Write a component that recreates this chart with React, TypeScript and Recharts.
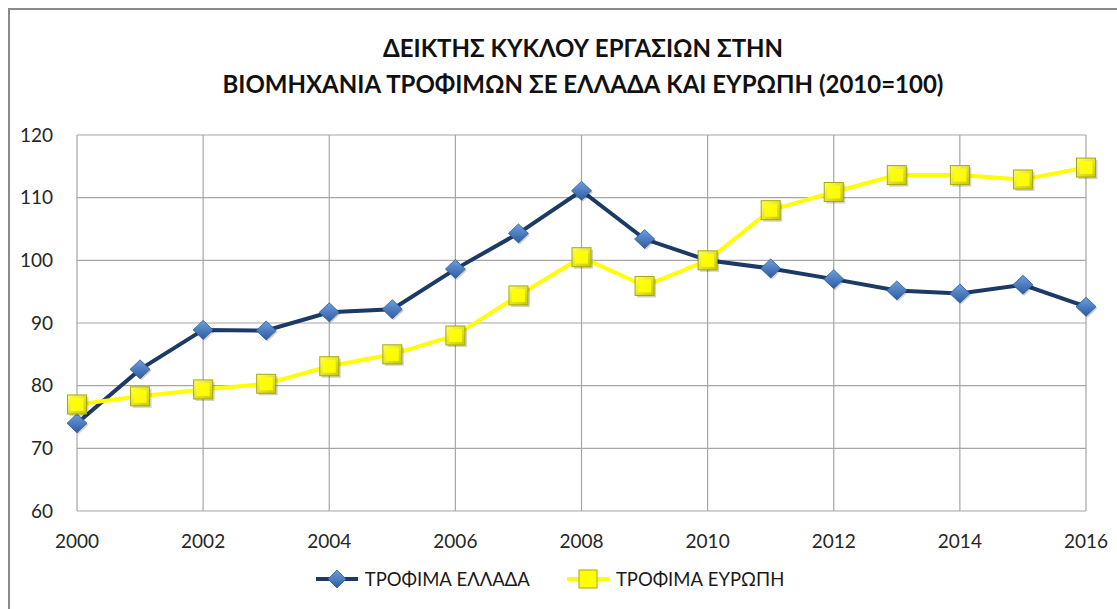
import React from "react";
import { LineChart, Line, XAxis, YAxis, CartesianGrid } from "recharts";

const years = [2000, 2001, 2002, 2003, 2004, 2005, 2006, 2007, 2008, 2009, 2010, 2011, 2012, 2013, 2014, 2015, 2016];
const greece = [74.0, 82.6, 88.9, 88.8, 91.7, 92.2, 98.6, 104.3, 111.1, 103.4, 100.0, 98.7, 97.0, 95.2, 94.7, 96.1, 92.6];
const europe = [77.0, 78.3, 79.4, 80.3, 83.1, 85.0, 88.0, 94.4, 100.5, 95.9, 100.0, 108.0, 110.9, 113.6, 113.6, 112.9, 114.8];
const xTicks = [2000, 2002, 2004, 2006, 2008, 2010, 2012, 2014, 2016];
const yTicks = [60, 70, 80, 90, 100, 110, 120];
const titleLines = ["ΔΕΙΚΤΗΣ ΚΥΚΛΟΥ ΕΡΓΑΣΙΩΝ ΣΤΗΝ", "ΒΙΟΜΗΧΑΝΙΑ ΤΡΟΦΙΜΩΝ ΣΕ ΕΛΛΑΔΑ ΚΑΙ ΕΥΡΩΠΗ (2010=100)"];
const seriesNames = ["ΤΡΟΦΙΜΑ ΕΛΛΑΔΑ", "ΤΡΟΦΙΜΑ ΕΥΡΩΠΗ"];

const data = years.map((y, i) => ({ year: y, greece: greece[i], europe: europe[i] }));

const FONT = "Lato, 'Noto Sans', sans-serif";
const NAVY = "#1b3a66";
const YELLOW = "#ffff00";

const Diamond = (props: any) => {
  const { cx, cy } = props;
  if (cx == null || cy == null) return null;
  const w = 10, h = 9.5;
  return (
    <g>
      <path d={`M${cx + 1.5},${cy - h + 1.5} L${cx + w + 1.5},${cy + 1.5} L${cx + 1.5},${cy + h + 1.5} L${cx - w + 1.5},${cy + 1.5} Z`} fill="#000" opacity={0.18} />
      <path d={`M${cx},${cy - h} L${cx + w},${cy} L${cx},${cy + h} L${cx - w},${cy} Z`} fill="url(#diaGrad)" stroke="#2f5c95" strokeWidth={0.8} />
    </g>
  );
};

const Square = (props: any) => {
  const { cx, cy } = props;
  if (cx == null || cy == null) return null;
  const s = 9.5;
  return (
    <g>
      <rect x={cx - s + 2} y={cy - s + 2} width={2 * s} height={2 * s} fill="#000" opacity={0.18} />
      <rect x={cx - s} y={cy - s} width={2 * s} height={2 * s} fill="url(#sqGrad)" stroke="#a8a800" strokeWidth={1} />
      <rect x={cx - s + 3} y={cy - s + 3} width={2 * s - 6} height={2 * s - 6} fill={YELLOW} opacity={0.9} />
    </g>
  );
};

const LegendItem = ({ kind, label }: { kind: "d" | "s"; label: string }) => (
  <div style={{ display: "flex", alignItems: "center" }}>
    <svg width={44} height={24} style={{ marginRight: 6 }}>
      <line x1={1} y1={12} x2={43} y2={12} stroke={kind === "d" ? NAVY : YELLOW} strokeWidth={4} />
      {kind === "d" ? (
        <path d="M22,3 L31,12 L22,21 L13,12 Z" fill="url(#legDia)" stroke="#2f5c95" strokeWidth={0.8} />
      ) : (
        <rect x={13} y={3} width={18} height={18} fill={YELLOW} stroke="#a8a800" strokeWidth={1} />
      )}
      <defs>
        <linearGradient id="legDia" x1="0" y1="0" x2="0" y2="1">
          <stop offset="0%" stopColor="#6d9ee0" />
          <stop offset="100%" stopColor="#2d5d9f" />
        </linearGradient>
      </defs>
    </svg>
    <span style={{ fontFamily: FONT, fontSize: 18.5, color: "#1a1a1a" }}>{label}</span>
  </div>
);

export default function App() {
  return (
    <div style={{ position: "absolute", left: 0, top: 0, width: 1117, height: 609, background: "#fff", overflow: "hidden" }}>
      <div style={{ position: "absolute", left: 8, top: 8, width: 1200, height: 700, borderTop: "2px solid #8a8a8a", borderLeft: "2px solid #8a8a8a" }} />
      <div style={{ position: "absolute", left: 0, top: 30, width: 1166, textAlign: "center", fontFamily: FONT, fontWeight: 700, fontSize: 24, lineHeight: "36px", color: "#111" }}>
        <div>{titleLines[0]}</div>
        <div>{titleLines[1]}</div>
      </div>
      <div style={{ position: "absolute", left: 0, top: 0 }}>
        <LineChart width={1117} height={609} data={data} margin={{ top: 135, right: 31, bottom: 68, left: 27 }}>
          <defs>
            <linearGradient id="diaGrad" x1="0" y1="0" x2="0" y2="1">
              <stop offset="0%" stopColor="#6d9ee0" />
              <stop offset="100%" stopColor="#2d5d9f" />
            </linearGradient>
            <linearGradient id="sqGrad" x1="0" y1="0" x2="1" y2="1">
              <stop offset="0%" stopColor="#ffff66" />
              <stop offset="100%" stopColor="#c8c800" />
            </linearGradient>
          </defs>
          <CartesianGrid stroke="#a6a6a6" strokeWidth={1.2} />
          <XAxis
            dataKey="year"
            type="number"
            domain={[2000, 2016]}
            ticks={xTicks}
            axisLine={false}
            tickLine={false}
            tickSize={16}
            tickMargin={8}
            interval={0}
            tick={{ fontFamily: FONT, fontSize: 19, fill: "#262626" }}
          />
          <YAxis
            width={50}
            domain={[60, 120]}
            ticks={yTicks}
            axisLine={false}
            tickLine={false}
            tickSize={16}
            tickMargin={8}
            interval={0}
            tick={{ fontFamily: FONT, fontSize: 19, fill: "#262626" }}
          />
          <Line dataKey="greece" name={seriesNames[0]} stroke={NAVY} strokeWidth={4} dot={<Diamond />} isAnimationActive={false} />
          <Line dataKey="europe" name={seriesNames[1]} stroke={YELLOW} strokeWidth={4} dot={<Square />} isAnimationActive={false} />
        </LineChart>
      </div>
      <div style={{ position: "absolute", left: 0, top: 567, width: 1117, display: "flex", justifyContent: "center", gap: 36, paddingRight: 18, boxSizing: "border-box" }}>
        <LegendItem kind="d" label={seriesNames[0]} />
        <LegendItem kind="s" label={seriesNames[1]} />
      </div>
    </div>
  );
}
